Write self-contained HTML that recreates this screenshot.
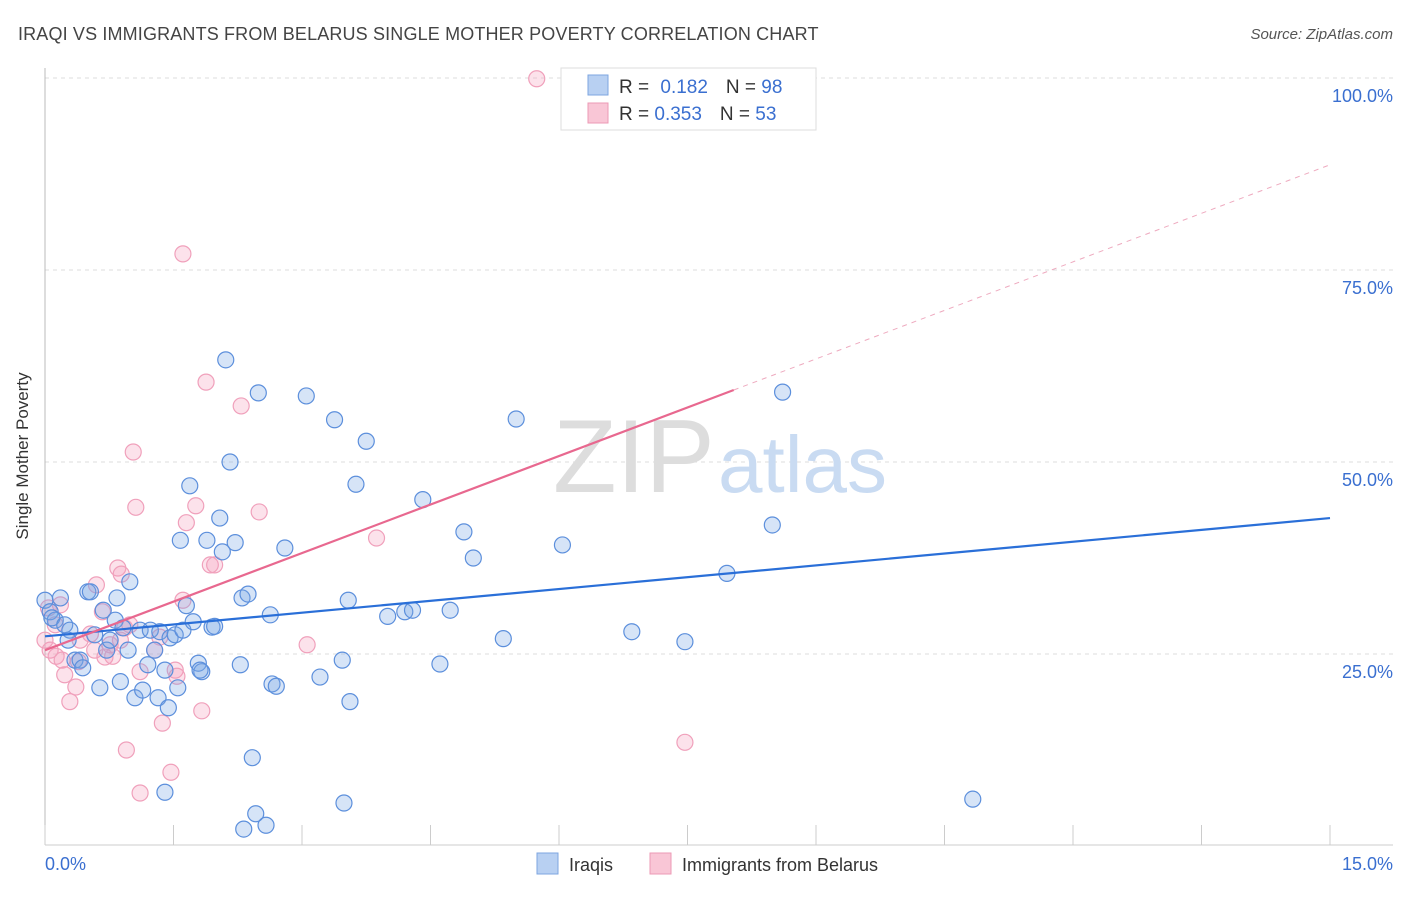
<!DOCTYPE html>
<html><head><meta charset="utf-8"><style>
body{margin:0;background:#fff;width:1406px;height:892px;overflow:hidden;font-family:"Liberation Sans",sans-serif}
svg text{font-family:"Liberation Sans",sans-serif}
</style></head><body>
<svg id="chart" width="1406" height="892">
<text x="18" y="40" font-size="18" fill="#444" letter-spacing="0.15">IRAQI VS IMMIGRANTS FROM BELARUS SINGLE MOTHER POVERTY CORRELATION CHART</text>
<text x="1393" y="39" font-size="15" fill="#555" font-style="italic" text-anchor="end">Source: ZipAtlas.com</text>
<g id="grid"></g>
<g><text x="553" y="492" font-size="104" fill="#ddd" font-family="Liberation Serif">ZIP</text><text x="718" y="492" font-size="80" fill="#c9dbf2">atlas</text></g>
<line x1="45" y1="68" x2="45" y2="845" stroke="#bbb"/>
<line x1="45" y1="845" x2="1393" y2="845" stroke="#ccc"/>
<g id="xticks"></g>
<text x="28" y="456" font-size="17" fill="#333" text-anchor="middle" transform="rotate(-90 28 456)">Single Mother Poverty</text>
<g id="ylabels"></g>
<text x="45" y="870" font-size="18" fill="#3a6fd0">0.0%</text>
<text x="1393" y="870" font-size="18" fill="#3a6fd0" text-anchor="end">15.0%</text>
<g id="pts"></g>
<g id="trends"></g>
<g>
<rect x="561" y="68" width="255" height="62" fill="#fff" stroke="#ddd"/>
<rect x="588" y="75" width="20" height="20" fill="#b8d0f2" stroke="#7ea6e0"/>
<rect x="588" y="103" width="20" height="20" fill="#f9c6d6" stroke="#ec9ab5"/>
<text x="619" y="93" font-size="19" fill="#333">R = <tspan fill="#3a6fd0" dx="6">0.182</tspan><tspan dx="18" fill="#333">N = </tspan><tspan fill="#3a6fd0">98</tspan></text>
<text x="619" y="120" font-size="19" fill="#333">R = <tspan fill="#3a6fd0">0.353</tspan><tspan dx="18" fill="#333">N = </tspan><tspan fill="#3a6fd0">53</tspan></text>
</g>
<g>
<rect x="537" y="853" width="21" height="21" fill="#b8d0f2" stroke="#7ea6e0"/>
<text x="569" y="871" font-size="18" fill="#333">Iraqis</text>
<rect x="650" y="853" width="21" height="21" fill="#f9c6d6" stroke="#ec9ab5"/>
<text x="682" y="871" font-size="18" fill="#333">Immigrants from Belarus</text>
</g>
</svg>
<script>
const yTicks=[25,50,75,100];
const yTickLabels=["25.0%","50.0%","75.0%","100.0%"];
const xTicks=[0,1.5,3,4.5,6,7.5,9,10.5,12,13.5,15];
const blueX=[0,0.06,0.12,0.18,0.08,0.23,0.29,0.27,0.35,0.41,0.44,0.5,0.53,0.58,0.64,0.68,0.72,0.76,0.82,0.84,0.88,0.91,0.97,0.99,1.05,1.11,1.14,1.2,1.23,1.28,1.32,1.34,1.4,1.44,1.46,1.52,1.55,1.58,1.61,1.65,1.69,1.73,1.79,1.83,1.89,1.95,1.98,2.04,2.07,2.11,2.16,2.22,2.28,2.3,2.37,2.42,2.46,2.49,2.32,2.58,2.63,2.65,2.7,2.8,3.05,3.21,3.38,3.47,3.49,3.54,3.56,3.63,3.75,4.0,4.2,4.29,4.41,4.61,4.73,4.89,5.0,5.35,5.5,6.04,6.85,7.47,7.96,8.49,8.61,10.83,1.4,1.81];
const blueY=[32,30.5,29.4,32.3,29.7,28.8,28.1,26.8,24.2,24.2,23.2,33.1,33.1,27.5,20.6,30.7,25.5,26.8,29.4,32.3,21.4,28.4,25.5,34.4,19.3,28.1,20.3,23.6,28.1,25.5,19.3,27.9,22.9,18,27.1,27.5,20.6,39.8,28.1,31.3,46.9,29.2,23.8,22.7,39.8,28.5,28.6,42.7,38.3,63.3,50,39.5,23.6,32.3,32.8,11.5,4.2,59,2.2,2.7,30.1,21.1,20.8,38.8,58.6,22,55.5,24.2,5.6,32,18.8,47.1,52.7,29.9,30.5,30.7,45.1,23.7,30.7,40.9,37.5,27,55.6,39.2,27.9,26.6,35.5,41.8,59.1,6.1,7,22.9];
const pinkX=[5.74,1.61,1.88,2.29,1.03,1.06,1.76,1.65,2.5,3.87,1.93,1.98,0.85,0.89,0.6,1.61,0.18,0.04,0.67,0.12,0.93,0.53,1.34,0.41,0.76,1.28,3.06,0.58,0.13,0.2,0.7,0.79,0.39,1.52,1.11,1.54,0.23,0.36,0.29,1.83,1.37,0.95,1.47,1.11,7.47,0,0.06,0.88,0.99];
const pinkY=[99.9,77.1,60.4,57.3,51.3,44.1,44.3,42.1,43.5,40.1,36.6,36.6,36.2,35.4,34,32,31.4,31,30.5,28.8,28.4,27.6,27.2,26.8,26.2,25.5,26.2,25.5,24.7,24.2,24.6,24.7,24,22.9,22.7,22.1,22.3,20.7,18.8,17.6,16,12.5,9.6,6.9,13.5,26.8,25.5,26.8,28.8];
const blueTrend=[27.3,42.7];
const pinkTrend=[25.5,88.7];
const pinkSolidEnd=8.04;
const NS="http://www.w3.org/2000/svg";
const X=v=>45+v*(1285/15);
const Y=v=>846-v*7.68;
function mk(tag,attrs,parent){const e=document.createElementNS(NS,tag);for(const k in attrs)e.setAttribute(k,attrs[k]);parent.appendChild(e);return e;}
const grid=document.getElementById('grid'),yl=document.getElementById('ylabels'),xt=document.getElementById('xticks');
yTicks.forEach((t,i)=>{
 const l=mk('line',{x1:45,x2:1393,y1:Y(t),y2:Y(t),stroke:'#ddd','stroke-dasharray':'4,4'},grid);
 
 
 const tx=mk('text',{x:1393,y:Y(t)+24,'font-size':18,fill:'#3a6fd0','text-anchor':'end'},yl);
 tx.textContent=yTickLabels[i];
 
 
});
xTicks.forEach(t=>{
 const l=mk('line',{x1:X(t),x2:X(t),y1:825,y2:845,stroke:'#ccc'},xt);
 
 
});
const pts=document.getElementById('pts');
pinkX.forEach((x,i)=>{
 const c=mk('circle',{cx:X(x),cy:Y(pinkY[i]),r:8,fill:'rgba(244,160,190,0.3)',stroke:'#f0a0bb','stroke-width':1.2},pts);
 
 
});
blueX.forEach((x,i)=>{
 const c=mk('circle',{cx:X(x),cy:Y(blueY[i]),r:8,fill:'rgba(120,165,230,0.3)',stroke:'#5c8fdc','stroke-width':1.2},pts);
 
 
});
const tr=document.getElementById('trends');
const b=mk('line',{x1:X(0),y1:Y(blueTrend[0]),x2:X(15),y2:Y(blueTrend[1]),stroke:'#2a6fd8','stroke-width':2.2},tr);


const pe=pinkTrend[0]+(pinkTrend[1]-pinkTrend[0])*pinkSolidEnd/15;
const p=mk('line',{x1:X(0),y1:Y(pinkTrend[0]),x2:X(pinkSolidEnd),y2:Y(pe),stroke:'#e8688f','stroke-width':2.2},tr);


const pd=mk('line',{x1:X(pinkSolidEnd),y1:Y(pe),x2:X(15),y2:Y(pinkTrend[1]),stroke:'#eeaabf','stroke-width':1,'stroke-dasharray':'5,5'},tr);


</script>
</body></html>
